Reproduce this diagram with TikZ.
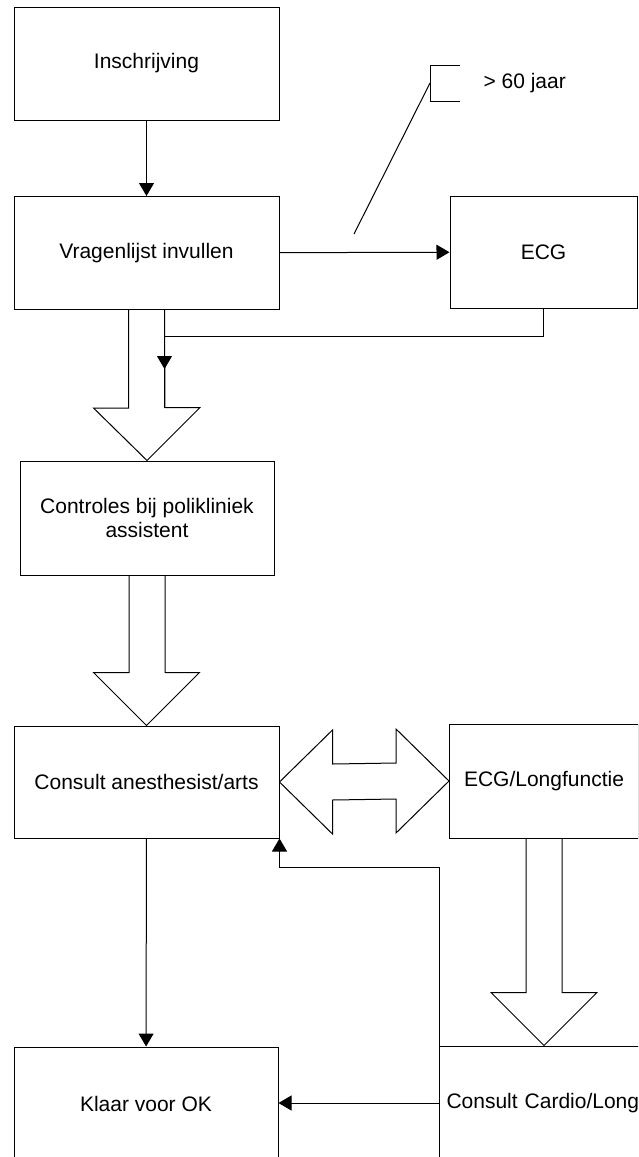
\documentclass[tikz,border=0pt]{standalone}
\usepackage{fontspec}
\setmainfont{Liberation Sans}
\usetikzlibrary{arrows.meta,calc}

\tikzset{
	stepbox/.style	= {rectangle, draw, minimum width=132.5pt, minimum height=56.5pt,
				   font=\fontsize{10.5}{12}\selectfont, align=center},
	flow/.style	= {->},
	bigarrow/.style	= {draw, line join=miter}
}

\begin{document}
\begin{tikzpicture}[x=0.5pt,y=-0.5pt,line width=0.5pt,>={Triangle[length=6.5pt,width=7.5pt]}]
	\useasboundingbox (0,0) rectangle (638,1157);
	\clip (0,0) rectangle (638,1157);
	% boxes
	\node (insch)   at (146.5,  63.5)	[stepbox]	{Inschrijving};
	\node (vragen)  at (146.5, 253)	[stepbox]	{Vragenlijst invullen};
	\node (ecg)     at (543.5, 252)	[stepbox, minimum width=93.5pt, minimum height=56pt]	{ECG};
	\node (ctrl)    at (147,   518)	[stepbox, minimum width=127pt, minimum height=57pt]	{Controles bij polikliniek\\assistent};
	\node (consult) at (146.5, 782)	[stepbox, minimum height=56pt]	{Consult anesthesist/arts};
	\node (longf)   at (544,   781)	[stepbox, minimum width=94.5pt, minimum height=57pt]	{ECG/Longfunctie};
	\node (klaar)   at (146,  1103.5)	[stepbox, minimum width=132pt]	{Klaar voor OK};
	\node (cardio)  at (564.5, 1103)	[stepbox, minimum width=0pt, text width=118pt, align=left, minimum height=57pt]	{Consult Cardio/Long};
	% callout
	\node (tag) at (483, 83) [anchor=west, inner sep=0pt, font=\fontsize{10.5}{12}\selectfont]	{> 60 jaar};
	\coordinate (tagknee) at (430, 83);
	\coordinate (tagfoot) at (354, 234);
	\draw (460, 65) -| (430, 101) -- (460, 101);
	\draw (tagknee) -- (tagfoot);
	% thin arrows
	\coordinate (join) at ($(vragen.south)+(18,59)$);
	\draw[flow] (insch) -- (vragen);
	\draw[flow] (vragen) -- (ecg);
	\draw[flow] (ecg.south) -- ++(0,28) -| (join);
	\draw (join) -- ++(0,39);
	\draw[flow] (consult) -- (klaar);
	\draw[flow] (cardio.west) -- (cardio.west -| klaar.east);
	\draw[flow] (cardio.north west) -- ++(0,-178) -| (consult.south east);
	% hollow arrows
	\draw[bigarrow] ($(vragen.south)+(-18,0)$) -- ++(0,98) -- ++(-35,0) -- (ctrl.north)
		-- ++(53,-53) -- ++(-35,0) -- ($(vragen.south)+(18,0)$);
	\draw[bigarrow] ($(ctrl.south)+(-18,0)$) |- ($(consult.north)+(-53,-53)$) -- (consult.north)
		-- ++(53,-53) -| ($(ctrl.south)+(18,0)$);
	\draw[bigarrow] ($(longf.south)+(-18,0)$) |- ($(longf.south |- cardio.north)+(-53,-53)$)
		-- (longf.south |- cardio.north) -- ++(53,-53) -| ($(longf.south)+(18,0)$);
	\draw[bigarrow] (consult.east) -- ++(53,-52) -- ++(0,34) -- ($(longf.west)+(-53,-18)$)
		-- ++(0,-34) -- (longf.west) -- ++(-53,52) -- ++(0,-34) -- ($(consult.east)+(53,18)$)
		-- ++(0,34) -- cycle;
\end{tikzpicture}
\end{document}
